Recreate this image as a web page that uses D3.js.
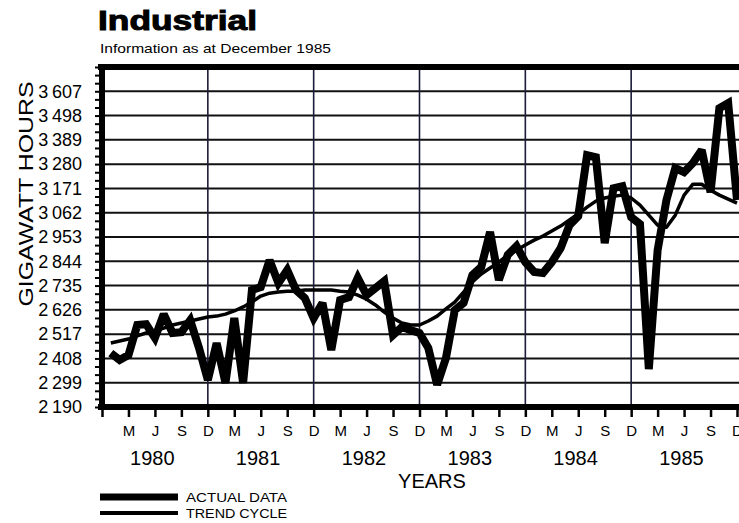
<!DOCTYPE html>
<html>
<head>
<meta charset="utf-8">
<script src="https://cdnjs.cloudflare.com/ajax/libs/d3/7.8.5/d3.min.js"></script>
<style>
body { margin: 0; background: #fff; }
svg { display: block; font-family: "Liberation Sans", Arial, Helvetica, sans-serif; }
</style>
</head>
<body>
<svg width="739" height="523"></svg>
<script>
// month index 0 = Dec 1979, 1 = Jan 1980 ... 72 = Dec 1985
var years = [1980, 1981, 1982, 1983, 1984, 1985];
var quarterLabels = ["M", "J", "S", "D"];
var yTicks = [2190, 2299, 2408, 2517, 2626, 2735, 2844, 2953, 3062, 3171, 3280, 3389, 3498, 3607];

// Jan 1980 .. Dec 1985
var actual = [
	2432, 2401, 2423, 2558, 2562, 2500, 2607, 2522, 2526, 2580, 2455, 2311,
	2477, 2298, 2589, 2298, 2715, 2728, 2849, 2746, 2805, 2715, 2679, 2589,
	2657, 2446, 2670, 2683, 2769, 2692, 2724, 2755, 2513, 2549, 2535, 2522,
	2455, 2290, 2410, 2625, 2657, 2782, 2818, 2975, 2760, 2872, 2912, 2840,
	2796, 2791, 2840, 2903, 3006, 3047, 3320, 3311, 2926, 3172, 3181, 3042,
	3011, 2360, 2894, 3119, 3262, 3244, 3285, 3343, 3154, 3531, 3554, 3119
];
var trend = [
	2477, 2486, 2495, 2509, 2522, 2531, 2544, 2558, 2567, 2576, 2585, 2594,
	2598, 2607, 2621, 2639, 2661, 2688, 2701, 2706, 2710, 2710, 2715, 2715,
	2715, 2715, 2710, 2706, 2692, 2674, 2648, 2616, 2589, 2567, 2558, 2558,
	2576, 2598, 2630, 2661, 2706, 2751, 2787, 2814, 2840, 2872, 2894, 2917,
	2939, 2957, 2980, 3002, 3029, 3056, 3087, 3114, 3128, 3136, 3141, 3128,
	3096, 3051, 3006, 2997, 3051, 3141, 3190, 3190, 3163, 3141, 3123, 3105
];

var svg = d3.select("svg");
var plotLeft = 102, plotRight = 737, plotTop = 67, plotBottom = 407;

var x = d3.scaleLinear().domain([0, 72]).range([plotLeft, plotRight]);
var y = d3.scaleLinear().domain([2190, 3716]).range([plotBottom, plotTop]);

// title
svg.append("text")
	.attr("x", 98).attr("y", 30)
	.attr("font-size", 28).attr("font-weight", "bold")
	.attr("stroke", "#000").attr("stroke-width", 1)
	.attr("textLength", 159).attr("lengthAdjust", "spacingAndGlyphs")
	.text("Industrial");
svg.append("text")
	.attr("x", 100).attr("y", 53)
	.attr("font-size", 13)
	.attr("textLength", 231).attr("lengthAdjust", "spacingAndGlyphs")
	.text("Information as at December 1985");

// grid
svg.append("g").selectAll("line")
	.data(yTicks.slice(1))
	.enter().append("line")
	.attr("x1", plotLeft).attr("x2", 739)
	.attr("y1", function(d) { return y(d); })
	.attr("y2", function(d) { return y(d); })
	.attr("stroke", "#111").attr("stroke-width", 2);

svg.append("g").selectAll("line")
	.data(d3.range(12, 72, 12))
	.enter().append("line")
	.attr("x1", function(d) { return x(d); })
	.attr("x2", function(d) { return x(d); })
	.attr("y1", plotTop).attr("y2", plotBottom)
	.attr("stroke", "#1c1c3a").attr("stroke-width", 1.6);

// y axis, 3 ticks per label
var minor = d3.range(0, 43).map(function(k) { return 2190 + k * 109 / 3; });
var yAxis = d3.axisLeft(y)
	.tickValues(minor)
	.tickSize(7)
	.tickPadding(13)
	.tickFormat(function(d, i) {
		if (i % 3 !== 0 || i / 3 >= yTicks.length) return "";
		var s = String(yTicks[i / 3]);
		return s.slice(0, 1) + "\u2009" + s.slice(1);
	});
var gy = svg.append("g")
	.attr("transform", "translate(" + plotLeft + ",0)")
	.call(yAxis);
gy.select(".domain").remove();
gy.selectAll(".tick line").attr("stroke", "#000").attr("stroke-width", 2);
gy.selectAll(".tick text")
	.attr("font-size", 18).attr("fill", "#000")
	.attr("font-family", "Liberation Sans, Arial, sans-serif");

// x axis, quarterly ticks
var xAxis = d3.axisBottom(x)
	.tickValues(d3.range(0, 73, 3))
	.tickSize(10)
	.tickPadding(8)
	.tickFormat(function(d) { return d === 0 ? "" : quarterLabels[(d / 3 - 1) % 4]; });
var gx = svg.append("g")
	.attr("transform", "translate(0," + plotBottom + ")")
	.call(xAxis);
gx.select(".domain").remove();
gx.selectAll(".tick line").attr("stroke", "#000").attr("stroke-width", 2.5);
gx.selectAll(".tick text")
	.attr("font-size", 15).attr("fill", "#000")
	.attr("font-family", "Liberation Sans, Arial, sans-serif");

svg.append("g").selectAll("text")
	.data(years)
	.enter().append("text")
	.attr("x", function(d, i) { return x(i * 12 + 5.7); })
	.attr("y", 465)
	.attr("text-anchor", "middle")
	.attr("font-size", 20)
	.text(function(d) { return d; });

svg.append("text")
	.attr("x", 432).attr("y", 488)
	.attr("text-anchor", "middle")
	.attr("font-size", 20)
	.text("YEARS");

svg.append("text")
	.attr("transform", "translate(33,194) rotate(-90)")
	.attr("text-anchor", "middle")
	.attr("font-size", 21)
	.attr("textLength", 225).attr("lengthAdjust", "spacingAndGlyphs")
	.text("GIGAWATT HOURS");

// frame
svg.append("line")
	.attr("x1", plotLeft - 4).attr("x2", 739)
	.attr("y1", plotTop).attr("y2", plotTop)
	.attr("stroke", "#000").attr("stroke-width", 6);
svg.append("line")
	.attr("x1", plotLeft - 4).attr("x2", 739)
	.attr("y1", plotBottom).attr("y2", plotBottom)
	.attr("stroke", "#000").attr("stroke-width", 6);
svg.append("line")
	.attr("x1", plotLeft).attr("x2", plotLeft)
	.attr("y1", plotTop - 3).attr("y2", plotBottom + 3)
	.attr("stroke", "#000").attr("stroke-width", 6);

// series
var line = d3.line()
	.x(function(d, i) { return x(i + 1); })
	.y(function(d) { return y(d); });

svg.append("path")
	.datum(trend)
	.attr("d", line)
	.attr("fill", "none")
	.attr("stroke", "#000")
	.attr("stroke-width", 3.5)
	.attr("stroke-linejoin", "round");

svg.append("path")
	.datum(actual)
	.attr("d", line)
	.attr("fill", "none")
	.attr("stroke", "#000")
	.attr("stroke-width", 8)
	.attr("stroke-linejoin", "miter")
	.attr("stroke-miterlimit", 2.5);

// legend
var legend = [
	{ label: "ACTUAL DATA", w: 7, y: 497 },
	{ label: "TREND CYCLE", w: 4, y: 513 }
];
var lg = svg.append("g").selectAll("g")
	.data(legend)
	.enter().append("g");
lg.append("line")
	.attr("x1", 100).attr("x2", 178)
	.attr("y1", function(d) { return d.y; })
	.attr("y2", function(d) { return d.y; })
	.attr("stroke", "#000")
	.attr("stroke-width", function(d) { return d.w; });
lg.append("text")
	.attr("x", 186)
	.attr("y", function(d) { return d.y + 5; })
	.attr("font-size", 13.5)
	.attr("textLength", 101).attr("lengthAdjust", "spacingAndGlyphs")
	.text(function(d) { return d.label; });
</script>
</body>
</html>
